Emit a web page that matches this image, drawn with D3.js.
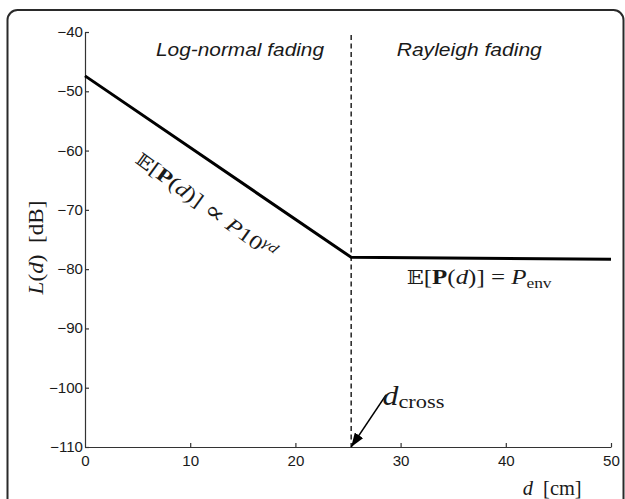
<!DOCTYPE html>
<html><head><meta charset="utf-8">
<script src="https://cdn.jsdelivr.net/npm/d3@7"></script>
<style>
html,body{margin:0;padding:0;background:#fff;}
svg{display:block;}
</style></head>
<body>
<script>
// ---- data ----
const xTicks = [0, 10, 20, 30, 40, 50];
const yTicks = [-110, -100, -90, -80, -70, -60, -50, -40];
const distance = [0, 25.3, 50];
const lossDb = [-47.4, -78.0, -78.35];
const dCross = 25.3;
const regionLabels = ["Log-normal fading", "Rayleigh fading"];

const W = 625, H = 499;
const svg = d3.select("body").append("svg").attr("width", W).attr("height", H);

// outer rounded frame
svg.append("rect").attr("x", 7.5).attr("y", 10).attr("width", 616).attr("height", 520)
  .attr("rx", 10).attr("fill", "none").attr("stroke", "#2a2a2a").attr("stroke-width", 2);

const x = d3.scaleLinear().domain([0, 50]).range([85, 611]);
const y = d3.scaleLinear().domain([-110, -40]).range([447, 32]);

const sans = "'Liberation Sans', Arial, Helvetica, sans-serif";
const serif = "'Liberation Serif', 'Times New Roman', serif";
const bbFont = "'DejaVu Serif', 'DejaVu Sans', serif";

// axes
const yAxis = svg.append("g").attr("transform", `translate(${x(0)},0)`)
  .call(d3.axisLeft(y).tickValues(yTicks).tickSize(-4).tickSizeOuter(0).tickPadding(2));
const xAxis = svg.append("g").attr("transform", `translate(0,${y(-110)})`)
  .call(d3.axisBottom(x).tickValues(xTicks).tickSize(-4).tickSizeOuter(0).tickPadding(9.5));
[yAxis, xAxis].forEach(a => {
  a.select(".domain").attr("stroke", "#333").attr("stroke-width", 1.2);
  a.selectAll(".tick line").attr("stroke", "#333").attr("stroke-width", 1.2);
  a.selectAll(".tick text").attr("font-family", sans).attr("font-size", 14).attr("fill", "#1a1a1a")
    .each(function(){ const w = this.getComputedTextLength(); d3.select(this).attr("textLength", w*1.08).attr("lengthAdjust","spacingAndGlyphs"); });
});
xAxis.selectAll(".tick").filter(d => d === 0).select("line").remove();

// dashed crossover line
svg.append("line").attr("x1", x(dCross)).attr("x2", x(dCross)).attr("y1", 35).attr("y2", y(-110))
  .attr("stroke", "#000").attr("stroke-width", 1.3).attr("stroke-dasharray", "5,3.5");

// main curve
const pts = distance.map((d, i) => [d, lossDb[i]]);
svg.append("path").datum(pts)
  .attr("d", d3.line().x(d => x(d[0])).y(d => y(d[1])))
  .attr("fill", "none").attr("stroke", "#000").attr("stroke-width", 3).attr("stroke-linejoin", "miter");

// helper to place a text stretched to a target width
function placeText(px, py, rot, width, anchor, build) {
  const t = svg.append("text").attr("text-anchor", anchor).attr("fill", "#1a1a1a");
  build(t);
  const w = t.node().getBBox().width;
  const s = width / w;
  t.attr("transform", `translate(${px},${py}) rotate(${rot}) scale(${s},1)`);
  return t;
}

// region labels
placeText(156, 56, 0, 169, "start", t => t.attr("font-family", sans).attr("font-style", "italic").attr("font-size", 18.5).text(regionLabels[0]));
placeText(396.7, 56, 0, 146, "start", t => t.attr("font-family", sans).attr("font-style", "italic").attr("font-size", 18.5).text(regionLabels[1]));

// rotated formula along slope
placeText(134, 162, 36, 169, "start", t => {
  t.attr("font-family", serif).attr("font-size", 20);
  t.append("tspan").attr("font-family", bbFont).attr("font-size", 18).text("𝔼");
  t.append("tspan").text("[");
  t.append("tspan").attr("font-weight", "bold").text("P");
  t.append("tspan").text("(");
  t.append("tspan").attr("font-style", "italic").text("d");
  t.append("tspan").text(")] ");
  t.append("tspan").attr("font-family", bbFont).attr("font-size", 24).attr("dy", "1").text("∝");
  t.append("tspan").attr("dy", "-1").text(" ");
  t.append("tspan").attr("font-style", "italic").text("P");
  t.append("tspan").text("10");
  t.append("tspan").attr("font-style", "italic").attr("font-size", 14).attr("dy", "-8").text("γd");
});

// flat-region formula
placeText(406.7, 283.5, 0, 145, "start", t => {
  t.attr("font-family", serif).attr("font-size", 20);
  t.append("tspan").attr("font-family", bbFont).attr("font-size", 18).text("𝔼");
  t.append("tspan").text("[");
  t.append("tspan").attr("font-weight", "bold").text("P");
  t.append("tspan").text("(");
  t.append("tspan").attr("font-style", "italic").text("d");
  t.append("tspan").text(")] = ");
  t.append("tspan").attr("font-style", "italic").text("P");
  t.append("tspan").attr("font-size", 14).attr("dy", "4").text("env");
});

// axis titles
placeText(43, 247.5, -90, 95, "middle", t => {
  t.attr("font-family", serif).attr("font-size", 20);
  t.append("tspan").attr("font-style", "italic").text("L");
  t.append("tspan").text("(");
  t.append("tspan").attr("font-style", "italic").text("d");
  t.append("tspan").text(")\u2002[dB]");
});
placeText(522.7, 495, 0, 59, "start", t => {
  t.attr("font-family", serif).attr("font-size", 20);
  t.append("tspan").attr("font-style", "italic").text("d");
  t.append("tspan").text("\u2002[cm]");
});

// d_cross annotation with arrow
const defs = svg.append("defs");
defs.append("marker").attr("id", "arr").attr("viewBox", "0 0 14 10").attr("refX", 14).attr("refY", 5)
  .attr("markerWidth", 14).attr("markerHeight", 10).attr("markerUnits", "userSpaceOnUse")
  .attr("orient", "auto")
  .append("path").attr("d", "M0,0 L14,5 L0,10 Z").attr("fill", "#000");
svg.append("line").attr("x1", 386).attr("y1", 395).attr("x2", x(dCross)).attr("y2", y(-110))
  .attr("stroke", "#000").attr("stroke-width", 1.4).attr("marker-end", "url(#arr)");
placeText(382.5, 405, 0, 62, "start", t => {
  t.attr("font-family", serif).attr("font-size", 27);
  t.append("tspan").attr("font-style", "italic").text("d");
  t.append("tspan").attr("font-size", 19).attr("dy", "3").text("cross");
});
</script>
</body></html>
